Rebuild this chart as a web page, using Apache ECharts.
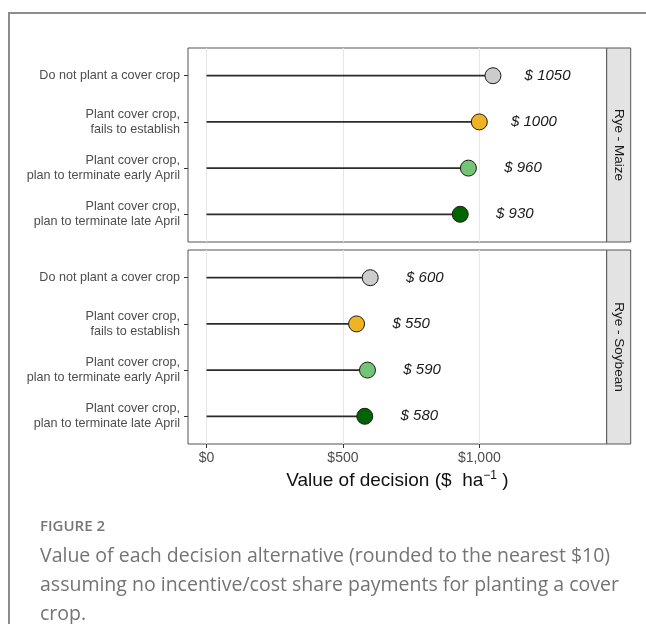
<!DOCTYPE html>
<html>
<head>
<meta charset="utf-8">
<script src="https://cdn.jsdelivr.net/npm/echarts@6/dist/echarts.min.js"></script>
<style>html,body{margin:0;padding:0;background:#fff}#c{width:646px;height:624px}</style>
</head>
<body>
<div id="c"></div>
<script>
const categories = ['Do not plant a cover crop', 'Plant cover crop,\nfails to establish', 'Plant cover crop,\nplan to terminate early April', 'Plant cover crop,\nplan to terminate late April'];
const maizeValues = [1050, 1000, 960, 930];
const soybeanValues = [600, 550, 590, 580];
const dotColors = ['#cccccc', '#f0b323', '#74c476', '#006400'];
const xTicks = [0, 500, 1000];
const xTickLabels = ['$0', '$500', '$1,000'];
const panelNames = ['Rye - Maize', 'Rye - Soybean'];
const captionTitle = 'FIGURE 2';
const captionLines = ['Value of each decision alternative (rounded to the nearest $10)', 'assuming no incentive/cost share payments for planting a cover', 'crop.'];

const chart = echarts.init(document.getElementById('c'));
const F = 'Liberation Sans, Arial, sans-serif';
const panelTop = [48, 250];
const panelH = 194;
const gridLeft = 188, gridRight = 39.3;
const xMin = -68, xMax = 1467;
const yIdx = categories.map((_, i) => i);

const grids = panelTop.map(t => ({left: gridLeft, right: gridRight, top: t, height: panelH, show: true, borderColor: '#555', borderWidth: 1, backgroundColor: '#fff'}));
const xAxes = panelTop.map((_, k) => ({
  type: 'value', gridIndex: k, min: xMin, max: xMax, position: 'bottom',
  axisLine: {show: false, onZero: false},
  axisTick: {show: k === 1, length: 4, lineStyle: {color: '#333'}, customValues: xTicks},
  axisLabel: {show: k === 1, customValues: xTicks, margin: 7, color: '#4d4d4d', fontSize: 14, fontFamily: F,
    formatter: v => xTickLabels[xTicks.indexOf(v)] || ''},
  splitLine: {show: true, lineStyle: {color: '#e6e6e6', width: 1}},
  name: k === 1 ? 'Value of decision ($  ha{sup|−1} )' : '',
  nameLocation: 'middle', nameGap: 26,
  nameTextStyle: {fontSize: 19, color: '#111', fontFamily: F, rich: {sup: {fontSize: 12, verticalAlign: 'top', padding: [0, 0, 10, 0], fontFamily: F, color: '#111'}}}
}));
const yAxes = panelTop.map((_, k) => ({
  type: 'value', gridIndex: k, min: -0.6, max: 3.6, inverse: true, position: 'left',
  axisLine: {show: false, onZero: false},
  axisTick: {show: true, length: 4, lineStyle: {color: '#333'}, customValues: yIdx},
  axisLabel: {customValues: yIdx, margin: 8, color: '#4d4d4d', fontSize: 12.6, fontFamily: F, lineHeight: 15, align: 'right',
    formatter: v => categories[v] || ''},
  splitLine: {show: false}
}));

const series = [];
[maizeValues, soybeanValues].forEach((vals, k) => {
  const data = vals.map((v, i) => [v, i]);
  series.push({
    type: 'custom', xAxisIndex: k, yAxisIndex: k, silent: true, z: 2,
    data: data,
    renderItem: (params, api) => {
      const p0 = api.coord([0, api.value(1)]);
      const p1 = api.coord([api.value(0), api.value(1)]);
      return {type: 'line', shape: {x1: p0[0], y1: p0[1], x2: p1[0], y2: p1[1]}, style: {stroke: '#2b2b2b', lineWidth: 1.8}};
    }
  });
  series.push({
    type: 'scatter', xAxisIndex: k, yAxisIndex: k, z: 3, symbol: 'circle', symbolSize: 16,
    data: data.map((d, i) => ({value: d, itemStyle: {color: dotColors[i], borderColor: '#1a1a1a', borderWidth: 1, opacity: 1}})),
    itemStyle: {opacity: 1},
    label: {show: true, position: 'inside', offset: [54.6, 0], align: 'center', verticalAlign: 'middle',
      formatter: p => '$ ' + p.value[0], fontStyle: 'italic', fontSize: 15, color: '#1a1a1a', fontFamily: F}
  });
});

const graphics = [
  {type: 'rect', shape: {x: 9, y: 13, width: 700, height: 700}, style: {fill: 'none', stroke: '#8c8c8c', lineWidth: 2}, z: 0}
];
panelTop.forEach((t, k) => {
  graphics.push({type: 'rect', shape: {x: 606.7, y: t, width: 24, height: panelH}, style: {fill: '#e3e3e3', stroke: '#555', lineWidth: 1}});
  graphics.push({type: 'text', x: 618.7, y: t + panelH / 2, rotation: -Math.PI / 2,
    style: {text: panelNames[k], font: '13.5px ' + F, fill: '#1a1a1a', align: 'center', verticalAlign: 'middle'}});
});
graphics.push({type: 'text', x: 40, y: 527, style: {text: captionTitle, font: '600 15px "Open Sans", sans-serif', fill: '#777', verticalAlign: 'middle'}});
captionLines.forEach((s, i) => {
  graphics.push({type: 'text', x: 40, y: 556 + i * 29, style: {text: s, font: '19.5px "Open Sans", sans-serif', fill: '#747474', verticalAlign: 'middle'}});
});

chart.setOption({
  animation: false,
  grid: grids, xAxis: xAxes, yAxis: yAxes, series: series, graphic: graphics
});
</script>
</body>
</html>
